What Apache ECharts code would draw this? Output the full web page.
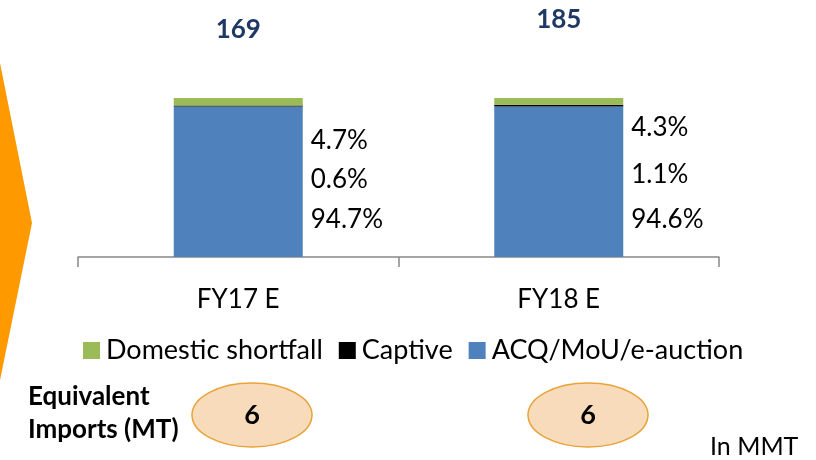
<!DOCTYPE html>
<html>
<head>
<meta charset="utf-8">
<script src="https://cdn.jsdelivr.net/npm/echarts@6/dist/echarts.min.js"></script>
<style>
  html, body { margin: 0; padding: 0; background: #fff; }
  #chart { width: 816px; height: 460px; }
</style>
</head>
<body>
<div id="chart"></div>
<script>
// Coal requirement mix by source (share of total, %)
const categories = ['FY17 E', 'FY18 E'];
const domesticShortfall = [4.7, 4.3];
const captive = [0.6, 1.1];
const acqMouAuction = [94.7, 94.6];
const totals = [169, 185];          // total requirement, MMT
const equivalentImports = [6, 6];   // MT

// Vertical nudges that spread the share labels beside each bar
const shiftGreen = [39, 26];
const shiftBlack = [74, 69];
const shiftBlue = [38, 38];

const FONT = 'Lato, "Open Sans", sans-serif';

function withShift(values, shifts) {
  return values.map((v, i) => ({ value: v, label: { offset: [0, shifts[i]] } }));
}

const pctLabel = {
  show: true,
  position: 'right',
  distance: 8,
  color: '#000',
  fontFamily: FONT,
  fontSize: 26,
  formatter: p => p.value.toFixed(1) + '%'
};

const chart = echarts.init(document.getElementById('chart'), null, { renderer: 'canvas' });

chart.setOption({
  animation: false,
  backgroundColor: '#fff',
  grid: { left: 78, right: 97, top: 98, bottom: 203 },
  legend: {
    top: 337,
    left: 83,
    padding: 0,
    itemWidth: 17,
    itemHeight: 17,
    itemGap: 16,
    icon: 'rect',
    data: ['Domestic shortfall', 'Captive', 'ACQ/MoU/e-auction'],
    textStyle: { fontFamily: FONT, fontSize: 27, color: '#000', padding: [0, 0, 0, 1] }
  },
  xAxis: {
    type: 'category',
    data: categories,
    axisLine: { lineStyle: { color: '#888', width: 1.5 } },
    axisTick: { show: true, alignWithLabel: false, length: 10, lineStyle: { color: '#888', width: 1.5 } },
    axisLabel: { fontFamily: FONT, fontSize: 26, color: '#000', margin: 30 }
  },
  yAxis: { type: 'value', min: 0, max: 100, show: false, splitLine: { show: false } },
  series: [
    {
      name: 'ACQ/MoU/e-auction', type: 'bar', stack: 'mix', barWidth: 129,
      itemStyle: { color: '#4F81BD' },
      label: pctLabel,
      data: withShift(acqMouAuction, shiftBlue)
    },
    {
      name: 'Captive', type: 'bar', stack: 'mix', barWidth: 129,
      itemStyle: { color: '#000' },
      label: pctLabel,
      data: withShift(captive, shiftBlack)
    },
    {
      name: 'Domestic shortfall', type: 'bar', stack: 'mix', barWidth: 129,
      itemStyle: { color: '#9BBB59' },
      label: pctLabel,
      data: withShift(domesticShortfall, shiftGreen)
    }
  ]
});

// Annotations: totals above bars, left arrow, imports ovals, unit note
const totalY = [30, 20];
const ovalX = [252, 588];
const graphics = [
  {
    type: 'polygon',
    shape: { points: [[-2, 53], [32, 223], [-2, 390]] },
    style: { fill: '#FF9900' }
  },
  {
    type: 'text', x: 28, y: 397,
    style: {
      text: 'Equivalent', fontFamily: FONT, fontWeight: 'bold',
      fontSize: 26, fill: '#000', verticalAlign: 'middle'
    }
  },
  {
    type: 'text', x: 28, y: 430,
    style: {
      text: 'Imports (MT)', fontFamily: FONT, fontWeight: 'bold',
      fontSize: 26, fill: '#000', verticalAlign: 'middle'
    }
  },
  {
    type: 'text', x: 710, y: 447,
    style: { text: 'In MMT', fontFamily: FONT, fontSize: 25, fill: '#000', verticalAlign: 'middle' }
  }
];
categories.forEach((c, i) => {
  const x = chart.convertToPixel({ xAxisIndex: 0 }, c);
  graphics.push({
    type: 'text', x: x, y: totalY[i],
    style: {
      text: String(totals[i]), fontFamily: FONT, fontWeight: 'bold', fontSize: 26,
      fill: '#1F3864', align: 'center', verticalAlign: 'middle'
    }
  });
  graphics.push({
    type: 'ellipse',
    shape: { cx: ovalX[i], cy: 415, rx: 60, ry: 32 },
    style: { fill: '#F8DBBA', stroke: '#E8A33A', lineWidth: 1.5 }
  });
  graphics.push({
    type: 'text', x: ovalX[i], y: 415,
    style: {
      text: String(equivalentImports[i]), fontFamily: FONT, fontWeight: 'bold',
      fontSize: 27, fill: '#000', align: 'center', verticalAlign: 'middle'
    }
  });
});
chart.setOption({ graphic: graphics });
</script>
</body>
</html>
